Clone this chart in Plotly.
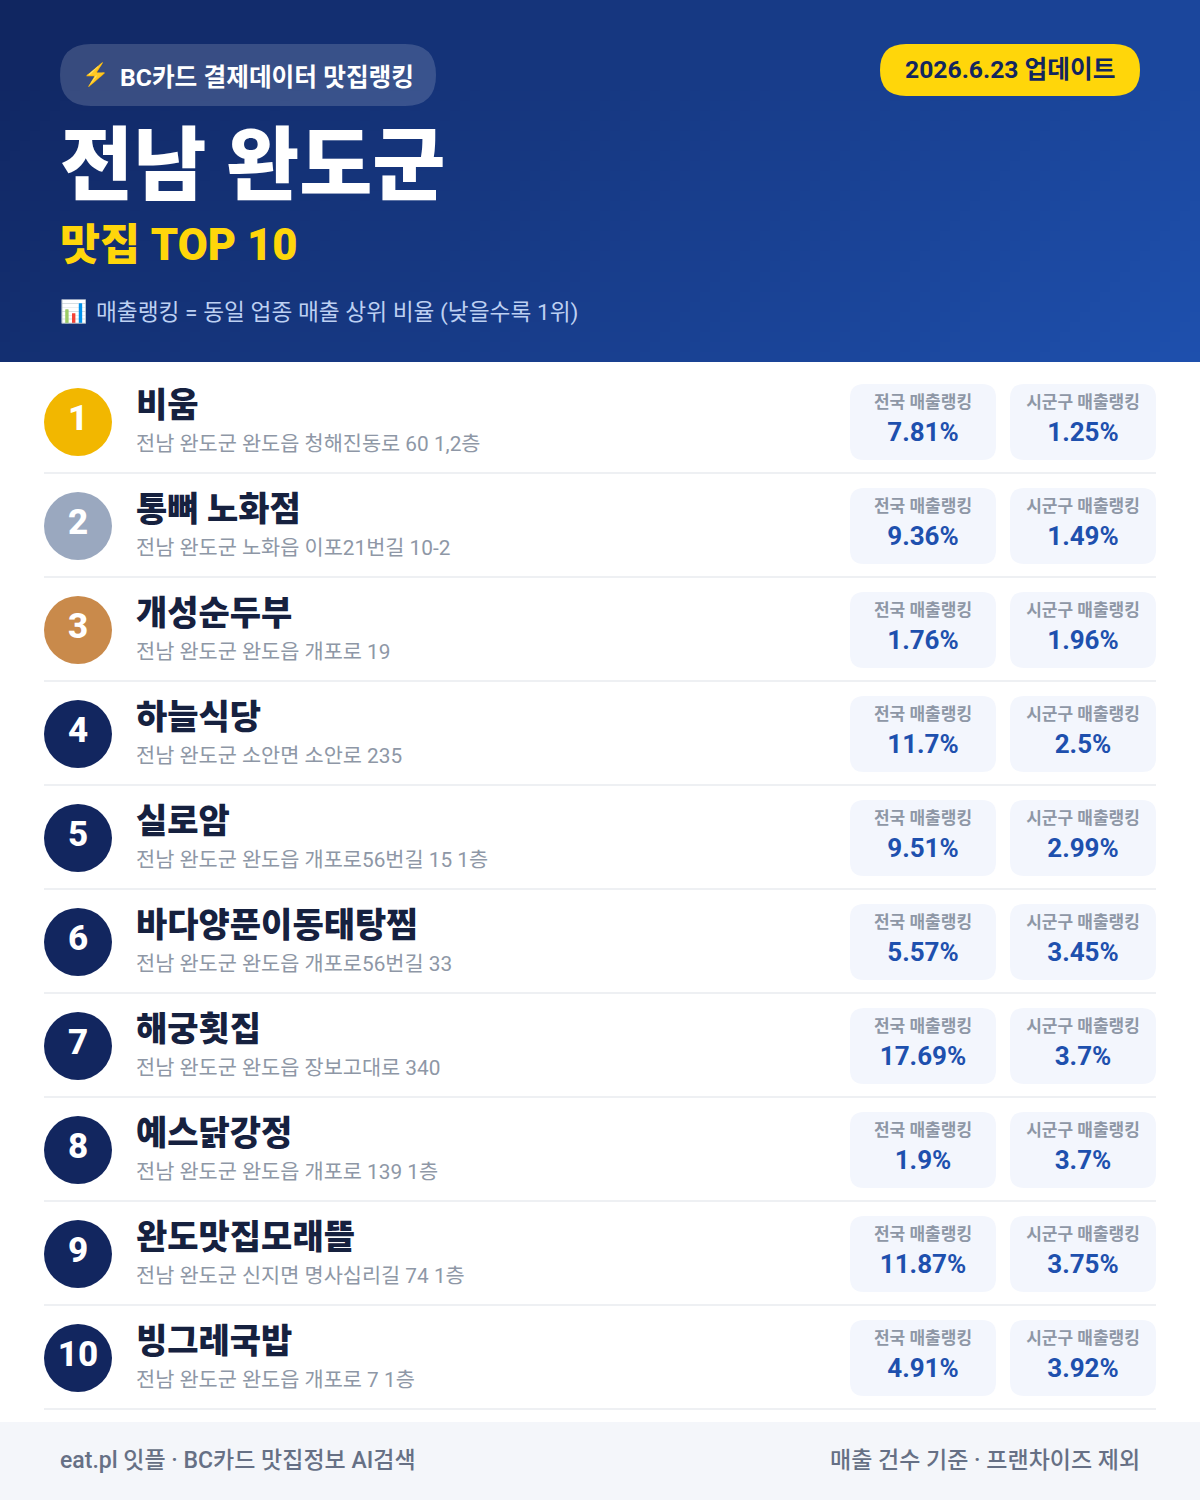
import numpy as np
import plotly.graph_objects as go

ranks = ["1", "2", "3", "4", "5", "6", "7", "8", "9", "10"]
names = ["비움", "통뼈 노화점", "개성순두부", "하늘식당", "실로암", "바다양푼이동태탕찜", "해궁횟집", "예스닭강정", "완도맛집모래뜰", "빙그레국밥"]
addresses = [
    "전남 완도군 완도읍 청해진동로 60 1,2층",
    "전남 완도군 노화읍 이포21번길 10-2",
    "전남 완도군 완도읍 개포로 19",
    "전남 완도군 소안면 소안로 235",
    "전남 완도군 완도읍 개포로56번길 15 1층",
    "전남 완도군 완도읍 개포로56번길 33",
    "전남 완도군 완도읍 장보고대로 340",
    "전남 완도군 완도읍 개포로 139 1층",
    "전남 완도군 신지면 명사십리길 74 1층",
    "전남 완도군 완도읍 개포로 7 1층",
]
national = ["7.81%", "9.36%", "1.76%", "11.7%", "9.51%", "5.57%", "17.69%", "1.9%", "11.87%", "4.91%"]
district = ["1.25%", "1.49%", "1.96%", "2.5%", "2.99%", "3.45%", "3.7%", "3.7%", "3.75%", "3.92%"]
badge_colors = ["#F2B700", "#9AA8BF", "#C98A4B"] + ["#12265F"] * 7

FONT = "Roboto, Noto Sans CJK KR"
row_y = [422 + 104 * i for i in range(10)]

def rrect(x0, y0, x1, y1, r):
    return (f"M{x0+r},{y0} L{x1-r},{y0} Q{x1},{y0} {x1},{y0+r} L{x1},{y1-r} Q{x1},{y1} {x1-r},{y1} "
            f"L{x0+r},{y1} Q{x0},{y1} {x0},{y1-r} L{x0},{y0+r} Q{x0},{y0} {x0+r},{y0} Z")

fig = go.Figure()

gx = np.linspace(0, 1200, 121)
gy = np.linspace(0, 362, 37)
mx = (gx[:-1] + gx[1:]) / 2
my = (gy[:-1] + gy[1:]) / 2
gz = (mx[None, :] + my[:, None]) / (1200 + 362)
fig.add_trace(go.Heatmap(x=gx, y=gy, z=gz, zmin=0, zmax=1, zsmooth=False, showscale=False, hoverinfo="skip",
                         colorscale=[[0, "#10255F"], [1, "#1E50AE"]]))

shapes = []
shapes.append(dict(type="rect", x0=0, x1=1200, y0=1422, y1=1500, fillcolor="#F4F6FA", line_width=0, layer="below"))
shapes.append(dict(type="path", path=rrect(60, 44, 436, 106, 31), fillcolor="rgba(255,255,255,0.16)", line_width=0, layer="above"))
shapes.append(dict(type="path", path=rrect(880, 44, 1140, 96, 26), fillcolor="#FFD60A", line_width=0, layer="above"))
for y in row_y:
    shapes.append(dict(type="line", x0=44, x1=1156, y0=y + 51, y1=y + 51, line=dict(color="#EEF0F3", width=2), layer="below"))
    shapes.append(dict(type="path", path=rrect(850, y - 38, 996, y + 38, 14), fillcolor="#F3F6FD", line_width=0, layer="below"))
    shapes.append(dict(type="path", path=rrect(1010, y - 38, 1156, y + 38, 14), fillcolor="#F3F6FD", line_width=0, layer="below"))

fig.add_trace(go.Scatter(x=[78] * 10, y=row_y, mode="markers", hoverinfo="skip",
                         marker=dict(size=68, color=badge_colors, line_width=0)))

def text_trace(x, y, text, pos, size, color, weight):
    fig.add_trace(go.Scatter(x=x, y=y, text=text, mode="text", textposition=pos, hoverinfo="skip",
                             textfont=dict(family=FONT, size=size, color=color, weight=weight)))

text_trace([78] * 10, [y - 1 for y in row_y], ranks, "middle center", 35, "#FFFFFF", 800)
text_trace([136] * 10, [y - 14 for y in row_y], names, "middle right", 34, "#16213F", 800)
text_trace([136] * 10, [y + 24 for y in row_y], addresses, "middle right", 20.8, "#8E97A6", 400)
text_trace([923] * 10, [y - 18 for y in row_y], ["전국 매출랭킹"] * 10, "middle center", 17, "#8E97A6", 700)
text_trace([1083] * 10, [y - 18 for y in row_y], ["시군구 매출랭킹"] * 10, "middle center", 17, "#8E97A6", 700)
text_trace([923] * 10, [y + 12 for y in row_y], national, "middle center", 26, "#1E50AE", 700)
text_trace([1083] * 10, [y + 12 for y in row_y], district, "middle center", 26, "#1E50AE", 700)

def ann(x, y, text, anchor, size, color, weight):
    return dict(x=x, y=y, xref="x", yref="y", text=text, showarrow=False, xanchor=anchor, yanchor="middle",
                font=dict(family=FONT, size=size, color=color, weight=weight), borderpad=0, borderwidth=0)

annotations = [
    ann(82, 75, "⚡", "left", 22, "#FFC83D", 400),
    ann(120, 77, "BC카드 결제데이터 맛집랭킹", "left", 24.7, "#FFFFFF", 700),
    ann(1010, 69, "2026.6.23 업데이트", "center", 24.7, "#12265F", 700),
    ann(60, 165, "전남 완도군", "left", 79.5, "#FFFFFF", 900),
    ann(60, 245, "맛집 TOP 10", "left", 43.5, "#FFD60A", 900),
    ann(60, 311, "📊", "left", 22, "#FFFFFF", 400),
    ann(96, 312, "매출랭킹 = 동일 업종 매출 상위 비율 (낮을수록 1위)", "left", 22.7, "#BDD0F2", 400),
    ann(60, 1460, "eat.pl 잇플 · BC카드 맛집정보 AI검색", "left", 23, "#667085", 500),
    ann(1140, 1460, "매출 건수 기준 · 프랜차이즈 제외", "right", 23, "#667085", 500),
]

fig.update_layout(
    width=1200, height=1500, margin=dict(l=0, r=0, t=0, b=0), showlegend=False,
    paper_bgcolor="#FFFFFF", plot_bgcolor="#FFFFFF", shapes=shapes, annotations=annotations,
    xaxis=dict(range=[0, 1200], visible=False, fixedrange=True),
    yaxis=dict(range=[1500, 0], visible=False, fixedrange=True),
)
fig.write_html("out.html", config=dict(displayModeBar=False),
               post_script="document.body.style.margin='0';document.documentElement.style.overflow='hidden';")
